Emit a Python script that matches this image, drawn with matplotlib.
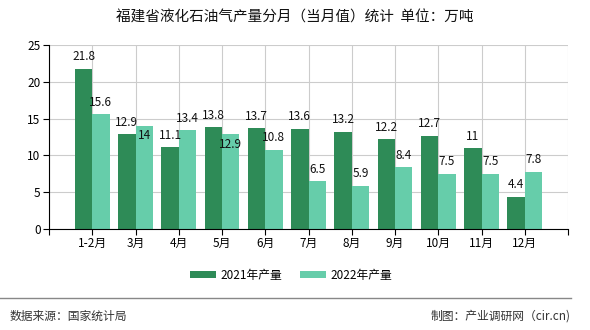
import matplotlib.pyplot as plt
import numpy as np

plt.rcParams['font.family'] = ['Noto Sans CJK SC', 'DejaVu Sans']

months = ['1-2月', '3月', '4月', '5月', '6月', '7月', '8月', '9月', '10月', '11月', '12月']
prod_2021 = [21.8, 12.9, 11.1, 13.8, 13.7, 13.6, 13.2, 12.2, 12.7, 11, 4.4]
prod_2022 = [15.6, 14, 13.4, 12.9, 10.8, 6.5, 5.9, 8.4, 7.5, 7.5, 7.8]

c1 = '#2E8B57'
c2 = '#66CDAA'

fig = plt.figure(figsize=(5.9, 3.3), dpi=100)
ax = fig.add_axes([49/590, 1-229/330, 519/590, 184/330])

x = np.arange(len(months))
w = 0.4
ax.bar(x - w/2, prod_2021, w, color=c1, label='2021年产量', zorder=2)
ax.bar(x + w/2, prod_2022, w, color=c2, label='2022年产量', zorder=2)

# data labels; light label goes inside the bar when it would hit the dark one
for i in range(len(months)):
    a, b = prod_2021[i], prod_2022[i]
    ax.annotate(f'{a:g}', (x[i] - w/2, a), xytext=(0, 12), textcoords='offset pixels',
                ha='center', va='center', fontsize=8.5, color='#111')
    off = -10 if abs(a - b) < 1.5 else 12
    ax.annotate(f'{b:g}', (x[i] + w/2, b), xytext=(0, off), textcoords='offset pixels',
                ha='center', va='center', fontsize=8.5, color='#111')

ax.set_xlim(-1, 11)
ax.set_ylim(0, 25)
ax.set_yticks([0, 5, 10, 15, 20, 25])
ax.set_xticks(np.arange(-1, 12))
ax.set_xticklabels([''] + months + [''])
ax.tick_params(axis='both', labelsize=8.5, length=4, color='black', pad=2)
ax.tick_params(axis='y', length=4)
ax.grid(True, color='#cccccc', linewidth=0.8, zorder=0)
for s in ['top', 'right']:
    ax.spines[s].set_visible(False)
for s in ['left', 'bottom']:
    ax.spines[s].set_color('black')
    ax.spines[s].set_zorder(3)

fig.text(295/590, 1-18/330, '福建省液化石油气产量分月（当月值）统计  单位：万吨',
         ha='center', va='center', fontsize=10.5, color='#111')

fig.legend(loc='center', bbox_to_anchor=(291/590, 1-275/330), ncol=2, frameon=False,
           fontsize=8.5, handlelength=2.2, handleheight=0.55, columnspacing=1.5, handletextpad=0.4)

fig.add_artist(plt.Line2D([0, 571/590], [1-298/330, 1-298/330], color='#888888', linewidth=1))
fig.text(10/590, 1-316/330, '数据来源：国家统计局', ha='left', va='center', fontsize=8.5, color='#333')
fig.text(571/590, 1-316/330, '制图：产业调研网（cir.cn)', ha='right', va='center', fontsize=8.5, color='#333')

fig.savefig('out.png', dpi=100)
